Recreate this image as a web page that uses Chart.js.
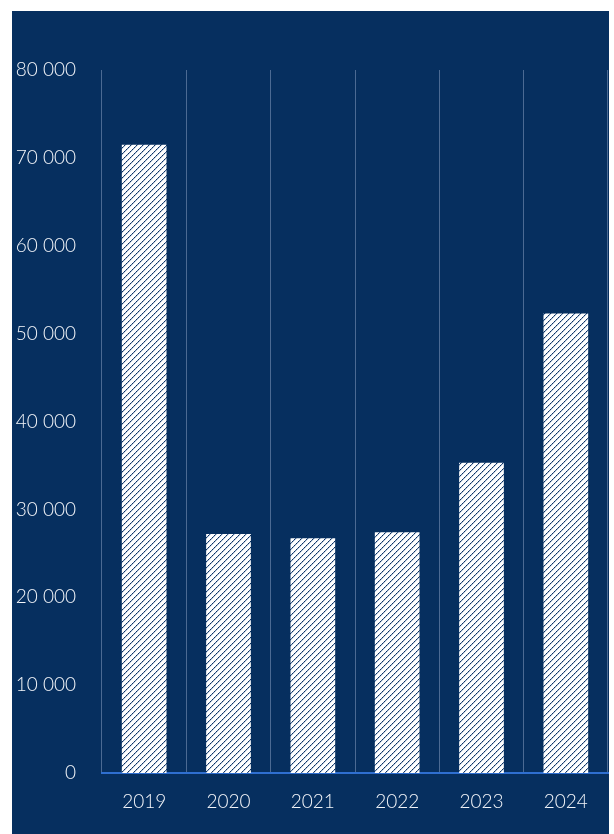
<!DOCTYPE html>
<html>
<head>
<meta charset="utf-8">
<script src="https://cdn.jsdelivr.net/npm/chart.js@4"></script>
<style>
  html, body { margin: 0; padding: 0; background: #ffffff; }
  #wrap { width: 614px; height: 834px; position: relative; }
</style>
</head>
<body>
<div id="wrap"><canvas id="c" width="614" height="834"></canvas></div>
<script>
const categories = ["2019", "2020", "2021", "2022", "2023", "2024"];
const values = [71500, 27200, 26700, 27400, 35300, 52300];
const yTicks = [0, 10000, 20000, 30000, 40000, 50000, 60000, 70000, 80000];

const NAVY = "#062f5f";

function makePattern() {
  const p = document.createElement("canvas");
  p.width = 6; p.height = 6;
  const g = p.getContext("2d");
  g.fillStyle = "#ffffff";
  g.fillRect(0, 0, 6, 6);
  for (let i = 0; i < 6; i++) {
    g.fillStyle = (i % 2 === 0) ? "#0b2f5c" : "#3f6190";
    g.fillRect(i, 5 - i, 1, 1);
    g.fillStyle = "#c3d0e0";
    g.fillRect(i, (6 - i) % 6, 1, 1);
  }
  return document.getElementById("c").getContext("2d").createPattern(p, "repeat");
}

const bgPlugin = {
  id: "bg",
  beforeDraw(chart) {
    const ctx = chart.ctx;
    ctx.save();
    ctx.fillStyle = "#ffffff";
    ctx.fillRect(0, 0, chart.width, chart.height);
    ctx.fillStyle = NAVY;
    ctx.fillRect(12, 11, 597, 823);
    ctx.restore();
  }
};

const fontFamily = "Lato, 'Open Sans', 'DejaVu Sans', sans-serif";

new Chart(document.getElementById("c"), {
  type: "bar",
  data: {
    labels: categories,
    datasets: [{
      data: values,
      backgroundColor: makePattern(),
      borderWidth: 0,
      barPercentage: 0.53,
      categoryPercentage: 1.0
    }]
  },
  options: {
    responsive: false,
    animation: false,
    devicePixelRatio: 1,
    layout: { padding: { top: 70, right: 6, left: 0, bottom: 0 } },
    plugins: { legend: { display: false }, tooltip: { enabled: false } },
    scales: {
      x: {
        grid: { display: true, color: "#4b6a93", lineWidth: 1, offset: true, drawTicks: false },
        border: { display: true, color: "#2f6fd0", width: 2 },
        ticks: { color: "#f4f6fa", font: { family: fontFamily, size: 19, weight: 300 }, padding: 17 },
        afterFit(scale) { scale.height = 61; }
      },
      y: {
        min: 0, max: 80000,
        afterBuildTicks(scale) { scale.ticks = yTicks.map(v => ({ value: v })); },
        grid: { display: false, drawTicks: false },
        border: { display: false },
        ticks: {
          color: "#f4f6fa",
          font: { family: fontFamily, size: 19, weight: 300 },
          padding: 26,
          callback: (v) => v === 0 ? "0" : String(v).replace(/\B(?=(\d{3})+(?!\d))/g, " ")
        },
        afterFit(scale) { scale.width = 102; }
      }
    }
  },
  plugins: [bgPlugin]
});
</script>
</body>
</html>
